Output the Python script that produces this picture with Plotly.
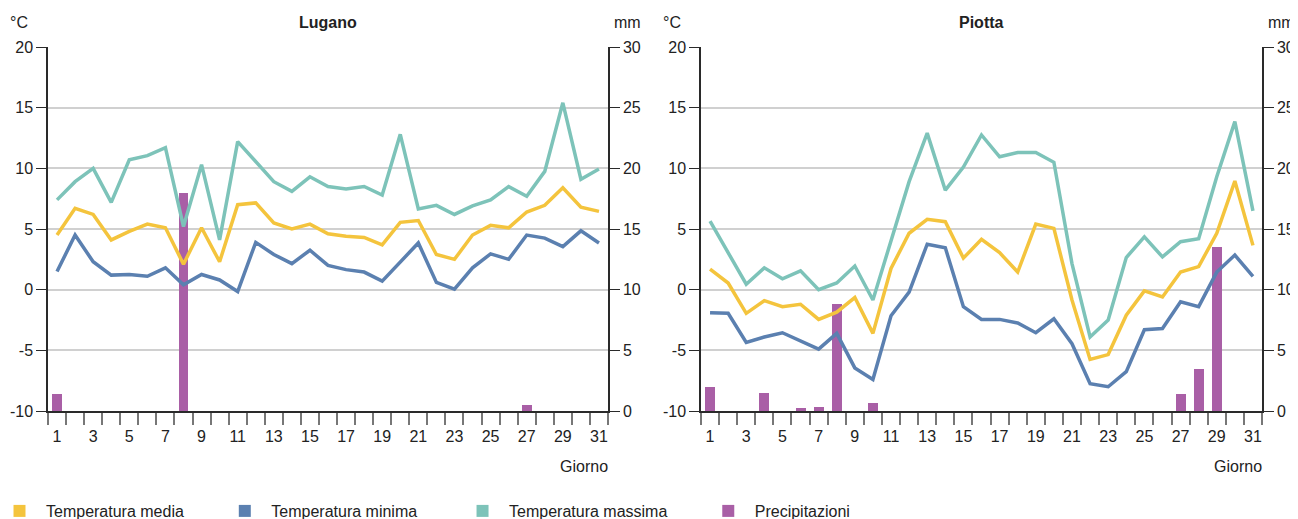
import plotly.graph_objects as go

days = list(range(1, 32))

lugano_media = [4.5, 6.7, 6.2, 4.1, 4.8, 5.4, 5.1, 2.1, 5.1, 2.3, 7.0, 7.15, 5.5, 5.0, 5.4, 4.6,
                4.4, 4.3, 3.7, 5.55, 5.7, 2.9, 2.5, 4.5, 5.3, 5.1, 6.4, 6.95, 8.4, 6.8, 6.45]
lugano_min = [1.5, 4.5, 2.3, 1.2, 1.25, 1.1, 1.8, 0.4, 1.25, 0.8, -0.15, 3.9, 2.9, 2.15, 3.25, 2.0,
              1.65, 1.45, 0.7, 2.3, 3.85, 0.6, 0.05, 1.8, 2.95, 2.5, 4.5, 4.25, 3.55, 4.85, 3.85]
lugano_max = [7.4, 8.9, 10.0, 7.2, 10.7, 11.05, 11.7, 5.2, 10.3, 4.1, 12.2, 10.5, 8.9, 8.1, 9.3, 8.5,
              8.3, 8.5, 7.8, 12.8, 6.65, 6.95, 6.2, 6.9, 7.4, 8.5, 7.7, 9.75, 15.4, 9.1, 9.95]
lugano_prec = [1.4, 0, 0, 0, 0, 0, 0, 18.0, 0, 0, 0, 0, 0, 0, 0, 0,
               0, 0, 0, 0, 0, 0, 0, 0, 0, 0, 0.5, 0, 0, 0, 0]

piotta_media = [1.7, 0.55, -1.95, -0.9, -1.4, -1.2, -2.45, -1.85, -0.65, -3.6, 1.75, 4.65, 5.8, 5.6, 2.6, 4.15,
                3.05, 1.45, 5.4, 5.05, -0.85, -5.75, -5.35, -2.1, -0.1, -0.6, 1.45, 1.9, 4.65, 8.95, 3.65]
piotta_min = [-1.9, -1.95, -4.35, -3.9, -3.55, -4.2, -4.9, -3.6, -6.45, -7.4, -2.15, -0.2, 3.75, 3.45, -1.4, -2.45,
              -2.45, -2.75, -3.55, -2.4, -4.45, -7.75, -8.0, -6.75, -3.3, -3.2, -1.0, -1.4, 1.45, 2.85, 1.1]
piotta_max = [5.65, 3.1, 0.45, 1.8, 0.9, 1.55, 0.0, 0.55, 1.95, -0.85, 4.0, 8.9, 12.9, 8.2, 10.1, 12.75,
              10.95, 11.3, 11.3, 10.5, 2.15, -3.9, -2.5, 2.65, 4.35, 2.7, 3.95, 4.2, 9.3, 13.85, 6.5]
piotta_prec = [2.0, 0, 0, 1.5, 0, 0.25, 0.3, 8.8, 0, 0.7, 0, 0, 0, 0, 0, 0,
               0, 0, 0, 0, 0, 0, 0, 0, 0, 0, 1.4, 3.5, 13.5, 0, 0]

temp_ticks = [-10, -5, 0, 5, 10, 15, 20]
temp_ticktext = ["-10", "-5", "0", "5", "10", "15", "20"]
prec_ticks = [0, 5, 10, 15, 20, 25, 30]
day_labels = list(range(1, 32, 2))
day_bounds = [d + 0.5 for d in range(0, 32)]

C_MEDIA = "#F4C43D"
C_MIN = "#5B80B0"
C_MAX = "#7DC3B9"
C_PREC = "#A95FA6"

FONT = "Liberation Sans, Arial, sans-serif"
FS = 16
TXT = "#222222"
AX = "#2a2a2a"

fig = go.Figure()

stations = [
    ("Lugano", lugano_media, lugano_min, lugano_max, lugano_prec, "x", "y", "y2"),
    ("Piotta", piotta_media, piotta_min, piotta_max, piotta_prec, "x2", "y3", "y4"),
]

for name, med, mn, mx, pr, xa, yp, yt in stations:
    fig.add_trace(go.Bar(x=days, y=pr, width=0.55, marker=dict(color=C_PREC, line=dict(width=0)),
                         xaxis=xa, yaxis=yp, showlegend=False, name="Precipitazioni"))
    for vals, col, nm in [(mx, C_MAX, "Temperatura massima"), (mn, C_MIN, "Temperatura minima"),
                          (med, C_MEDIA, "Temperatura media")]:
        fig.add_trace(go.Scatter(x=days, y=vals, mode="lines", line=dict(color=col, width=3.5),
                                 xaxis=xa, yaxis=yt, showlegend=False, name=nm))

# legend entries (square symbols); trailing no-break spaces set the gap between entries
NB = "\u00a0"
for nm, col, pad in [("Temperatura media", C_MEDIA, 10), ("Temperatura minima", C_MIN, 11),
                     ("Temperatura massima", C_MAX, 10), ("Precipitazioni", C_PREC, 0)]:
    fig.add_trace(go.Scatter(x=[None], y=[None], mode="markers", name=nm + NB * pad,
                             marker=dict(symbol="square", size=12, color=col),
                             xaxis="x", yaxis="y2", showlegend=True))

# the page places the figure 8 px from the top-left corner
OFF = 8
W, H = 1290, 519

def px(p):
    return (p - OFF) / W

def py(p):
    return (H - (p - OFF)) / H

ydom = [py(411), py(47)]
xdoms = [[px(48), px(608)], [px(701), px(1262)]]

def xaxis_cfg(dom, anchor):
    return dict(domain=dom, range=[0.5, 31.5], anchor=anchor, automargin=False,
                tickmode="array", tickvals=day_labels, ticktext=[str(d) for d in day_labels],
                ticks="outside", ticklen=10, tickcolor="rgba(0,0,0,0)",
                minor=dict(tickmode="array", tickvals=day_bounds, ticks="outside",
                           ticklen=12, tickcolor="#777777", tickwidth=1.5, showgrid=False),
                showline=True, linecolor=AX, linewidth=1.5, showgrid=False, zeroline=False,
                tickfont=dict(family=FONT, size=FS, color=TXT), fixedrange=True)

def prec_cfg(anchor):
    return dict(domain=ydom, range=[0, 30], side="right", anchor=anchor, automargin=False,
                tickmode="array", tickvals=prec_ticks, ticks="outside", ticklen=10,
                tickcolor=AX, tickwidth=1.2, showline=True, linecolor=AX, linewidth=1.5,
                showgrid=True, gridcolor="#d0d0d0", gridwidth=1.5, zeroline=False,
                tickfont=dict(family=FONT, size=FS, color=TXT))

def temp_cfg(over, anchor):
    return dict(overlaying=over, range=[-10, 20], side="left", anchor=anchor, automargin=False,
                tickmode="array", tickvals=temp_ticks, ticktext=temp_ticktext,
                ticks="outside", ticklen=10, tickcolor=AX, tickwidth=1.2,
                showline=True, linecolor=AX, linewidth=1.5, showgrid=False, zeroline=False,
                tickfont=dict(family=FONT, size=FS, color=TXT))

annotations = []
for i, (name, *_r) in enumerate(stations):
    x0 = [48, 701][i]
    x1 = [608, 1262][i]
    annotations += [
        dict(text="<b>" + name + "</b>", x=px((x0 + x1) / 2), y=py(22), xref="paper", yref="paper",
             showarrow=False, xanchor="center", yanchor="middle", font=dict(family=FONT, size=FS, color=TXT)),
        dict(text="°C", x=px(x0 - 29), y=py(22), xref="paper", yref="paper",
             showarrow=False, xanchor="center", yanchor="middle", font=dict(family=FONT, size=FS, color=TXT)),
        dict(text="mm", x=px(x1 + 19), y=py(22), xref="paper", yref="paper",
             showarrow=False, xanchor="center", yanchor="middle", font=dict(family=FONT, size=FS, color=TXT)),
        dict(text="Giorno", x=px(x1 + 2), y=py(466), xref="paper", yref="paper",
             showarrow=False, xanchor="right", yanchor="middle", font=dict(family=FONT, size=FS, color=TXT)),
    ]

fig.update_layout(
    width=W, height=H, margin=dict(l=0, r=0, t=0, b=0, autoexpand=False),
    paper_bgcolor="white", plot_bgcolor="white",
    font=dict(family=FONT, size=FS, color=TXT),
    xaxis=xaxis_cfg(xdoms[0], "y"),
    xaxis2=xaxis_cfg(xdoms[1], "y3"),
    yaxis=prec_cfg("x"),
    yaxis2=temp_cfg("y", "x"),
    yaxis3=prec_cfg("x2"),
    yaxis4=temp_cfg("y3", "x2"),
    bargap=0,
    annotations=annotations,
    legend=dict(orientation="h", x=0, xanchor="left", y=py(511), yanchor="middle",
                font=dict(family=FONT, size=FS, color=TXT), itemsizing="constant", itemwidth=43,
                indentation=-15, bgcolor="rgba(0,0,0,0)"),
)

fig.write_html("out.html")
